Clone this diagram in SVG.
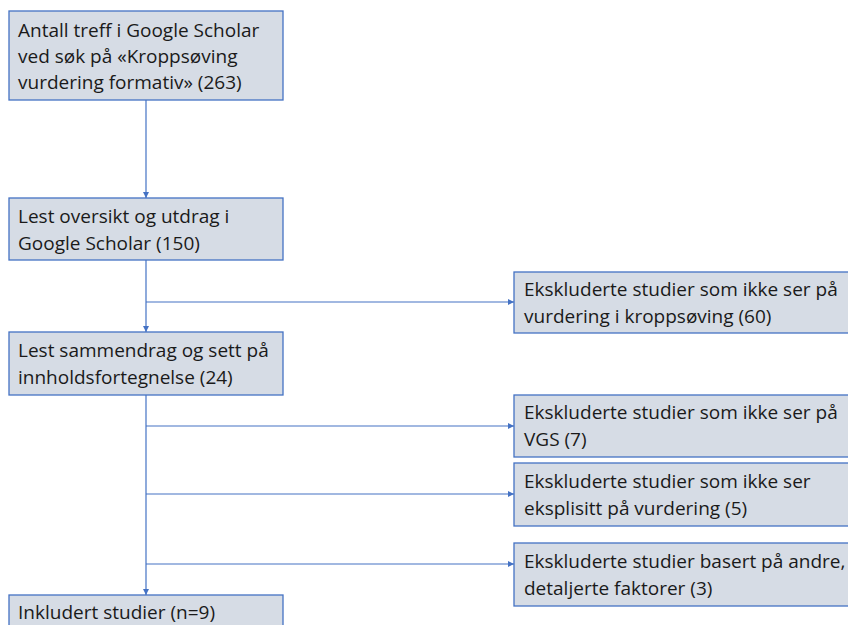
<svg xmlns="http://www.w3.org/2000/svg" width="848" height="625" viewBox="0 0 848 625">
<style>
.box{fill:#d6dce5;stroke:#4472c4;stroke-width:1.3}
.t{font-family:"Open Sans","Noto Sans",sans-serif;font-size:19px;fill:#1a1a1a}
.c{fill:none;stroke:#4472c4;stroke-width:1.2}
</style>
<defs>
<marker id="a" viewBox="0 0 10 10" refX="10" refY="5" markerWidth="6" markerHeight="6" orient="auto" markerUnits="userSpaceOnUse">
<path d="M0,0 L10,5 L0,10 z" fill="#4472c4"/>
</marker>
</defs>
<rect width="848" height="625" fill="#fff"/>
<g id="connectors">
<path class="c" d="M146,100 V198" marker-end="url(#a)"/>
<path class="c" d="M146,260 V332" marker-end="url(#a)"/>
<path class="c" d="M146,302 H514" marker-end="url(#a)"/>
<path class="c" d="M146,395 V595" marker-end="url(#a)"/>
<path class="c" d="M146,426 H514" marker-end="url(#a)"/>
<path class="c" d="M146,494 H514" marker-end="url(#a)"/>
<path class="c" d="M146,564 H514" marker-end="url(#a)"/>
</g>
<g id="n1"><rect class="box" x="9" y="11" width="274" height="89"/>
<text class="t" x="18" y="37">Antall treff i Google Scholar</text>
<text class="t" x="18" y="63">ved søk på «Kroppsøving</text>
<text class="t" x="18" y="89">vurdering formativ» (263)</text></g>
<g id="n2"><rect class="box" x="9" y="198" width="274" height="62"/>
<text class="t" x="18" y="223">Lest oversikt og utdrag i</text>
<text class="t" x="18" y="250">Google Scholar (150)</text></g>
<g id="n3"><rect class="box" x="9" y="332" width="274" height="63"/>
<text class="t" x="18" y="357">Lest sammendrag og sett på</text>
<text class="t" x="18" y="384">innholdsfortegnelse (24)</text></g>
<g id="n4"><rect class="box" x="514" y="272" width="340" height="61"/>
<text class="t" x="524" y="296">Ekskluderte studier som ikke ser på</text>
<text class="t" x="524" y="323">vurdering i kroppsøving (60)</text></g>
<g id="n5"><rect class="box" x="514" y="395" width="340" height="62"/>
<text class="t" x="524" y="419">Ekskluderte studier som ikke ser på</text>
<text class="t" x="524" y="446">VGS (7)</text></g>
<g id="n6"><rect class="box" x="514" y="463" width="340" height="63"/>
<text class="t" x="524" y="488">Ekskluderte studier som ikke ser</text>
<text class="t" x="524" y="515">eksplisitt på vurdering (5)</text></g>
<g id="n7"><rect class="box" x="514" y="543" width="340" height="63"/>
<text class="t" x="524" y="568">Ekskluderte studier basert på andre,</text>
<text class="t" x="524" y="595">detaljerte faktorer (3)</text></g>
<g id="n8"><rect class="box" x="9" y="595" width="274" height="40"/>
<text class="t" x="18" y="619">Inkludert studier (n=9)</text></g>
</svg>
